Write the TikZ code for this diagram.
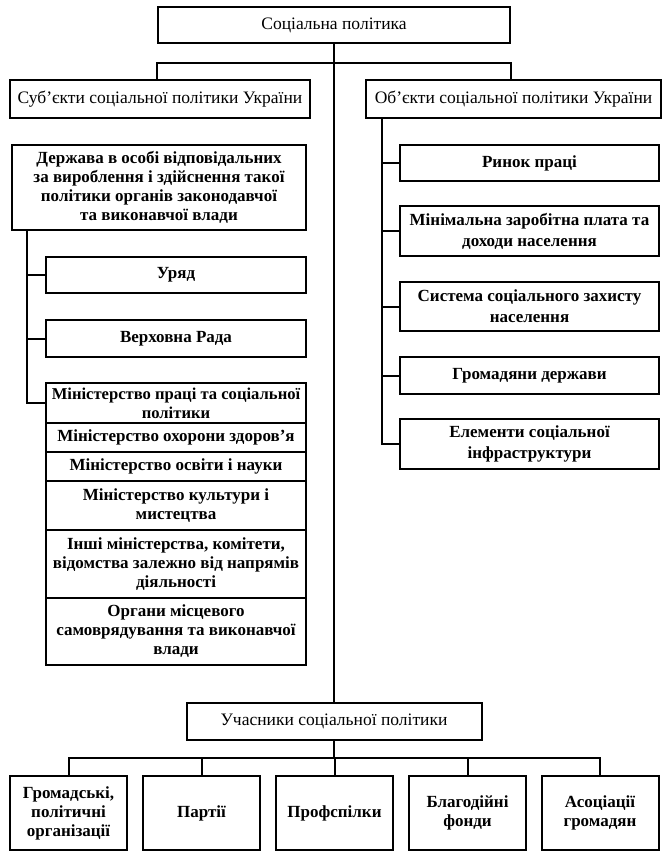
\documentclass[tikz,border=0pt]{standalone}
\usepackage{fontspec}
\setmainfont{Liberation Serif}
\begin{document}
\begin{tikzpicture}[x=1pt,y=-1pt,
  box/.style={draw,line width=2pt,inner sep=0pt,align=center,font=\fontsize{17.5}{19}\selectfont},
  bbox/.style={box,font=\fontsize{17}{19}\selectfont\bfseries},
  rbox/.style={box,font=\fontsize{17}{21}\selectfont\bfseries,minimum width=259},
  conn/.style={line width=2pt}]
\useasboundingbox (0,0) rectangle (671,863);
% top level
\node[box,minimum width=352,minimum height=36] (top) at (334,25) {Соціальна політика};
\node[box,minimum width=300,minimum height=38] (subj) at (160,99) {Суб’єкти соціальної політики України};
\node[box,minimum width=295,minimum height=38] (obj) at (513.5,99) {Об’єкти соціальної політики України};
\coordinate (H) at (334,63);
\draw[conn] (subj.north -| top.west) -- (top.west |- H) -- (top.east |- H) -- (obj.north -| top.east);
% left side
\node[bbox,minimum width=294,minimum height=85] (dersh) at (159,187.5) {Держава в особі відповідальних\\за вироблення і здійснення такої\\політики органів законодавчої\\та виконавчої влади};
\node[bbox,minimum width=260,minimum height=36] (uryad) at (176,275) {Уряд};
\node[bbox,minimum width=260,minimum height=37] (vr) at (176,338.5) {Верховна Рада};
\node[bbox,minimum width=260,minimum height=40,font=\fontsize{16.6}{19}\selectfont\bfseries] (m1) at (176,403) {Міністерство праці та соціальної\\політики};
\node[bbox,minimum width=260,minimum height=29] (m2) at (176,437.5) {Міністерство охорони здоров’я};
\node[bbox,minimum width=260,minimum height=29] (m3) at (176,466.5) {Міністерство освіти і науки};
\node[bbox,minimum width=260,minimum height=49] (m4) at (176,505.5) {Міністерство культури і\\мистецтва};
\node[bbox,minimum width=260,minimum height=68] (m5) at (176,564) {Інші міністерства, комітети,\\відомства залежно від напрямів\\діяльності};
\node[bbox,minimum width=260,minimum height=67] (m6) at (176,631.5) {Органи місцевого\\самоврядування та виконавчої\\влади};
\coordinate (LT) at (27,0);
\draw[conn] (dersh.south -| LT) |- (m1.west);
\draw[conn] (LT |- uryad.west) -- (uryad.west);
\draw[conn] (LT |- vr.west) -- (vr.west);
% right side
\node[rbox,minimum height=36] (r1) at (529.5,163) {Ринок праці};
\node[rbox,minimum height=50] (r2) at (529.5,231) {Мінімальна заробітна плата та\\доходи населення};
\node[rbox,minimum height=49] (r3) at (529.5,306.5) {Система соціального захисту\\населення};
\node[rbox,minimum height=37] (r4) at (529.5,375.5) {Громадяни держави};
\node[rbox,minimum height=50] (r5) at (529.5,444) {Елементи соціальної\\інфраструктури};
\coordinate (RT) at (382,0);
\draw[conn] (obj.south -| RT) |- (r5.west);
\draw[conn] (RT |- r1.west) -- (r1.west);
\draw[conn] (RT |- r2.west) -- (r2.west);
\draw[conn] (RT |- r3.west) -- (r3.west);
\draw[conn] (RT |- r4.west) -- (r4.west);
% participants
\node[box,minimum width=295,minimum height=37] (part) at (334,721.5) {Учасники соціальної політики};
\draw[conn] (top.south) -- (part.north);
\node[bbox,minimum width=117,minimum height=74] (b1) at (68.5,813) {Громадські,\\політичні\\організації};
\node[bbox,minimum width=117,minimum height=74] (b2) at (201.5,813) {Партії};
\node[bbox,minimum width=117,minimum height=74] (b3) at (334.5,813) {Профспілки};
\node[bbox,minimum width=117,minimum height=74] (b4) at (467.5,813) {Благодійні\\фонди};
\node[bbox,minimum width=117,minimum height=74] (b5) at (600,813) {Асоціації\\громадян};
\coordinate (HB) at (0,758);
\draw[conn] (part.south) -- (part.south |- HB);
\draw[conn] (b1.north) -- (b1.north |- HB) -- (b5.north |- HB) -- (b5.north);
\draw[conn] (b2.north) -- (b2.north |- HB);
\draw[conn] (b3.north) -- (b3.north |- HB);
\draw[conn] (b4.north) -- (b4.north |- HB);
\end{tikzpicture}
\end{document}
